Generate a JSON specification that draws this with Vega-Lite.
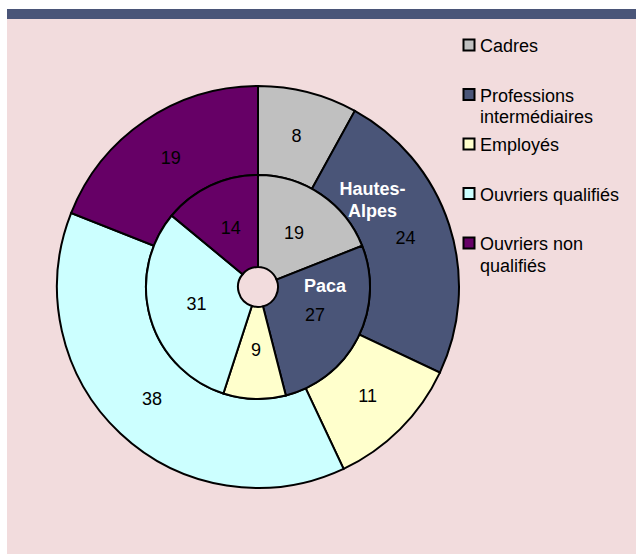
{
  "$schema": "https://vega.github.io/schema/vega-lite/v6.json",
  "background": "white",
  "padding": {"left": 7, "top": 8, "right": 0, "bottom": 0},
  "spacing": 0,
  "config": {
    "view": {"stroke": null},
    "concat": {"spacing": 0},
    "font": "Liberation Sans",
    "legend": {
      "orient": "none",
      "legendX": 453,
      "legendY": 27,
      "padding": 0,
      "title": null,
      "symbolType": "square",
      "symbolSize": 121,
      "symbolStrokeColor": "black",
      "symbolStrokeWidth": 2,
      "symbolOpacity": 1,
      "labelFont": "Liberation Sans",
      "labelFontSize": 18,
      "labelColor": "black",
      "labelBaseline": "top",
      "labelOffset": 2,
      "labelLimit": 220,
      "rowPadding": 6.5,
      "gridAlign": "all"
    }
  },
  "datasets": {
    "d": [
      {"ring": "Hautes-Alpes", "cat": "Cadres", "k": 1, "v": 8},
      {"ring": "Hautes-Alpes", "cat": "Professions intermédiaires", "k": 2, "v": 24},
      {"ring": "Hautes-Alpes", "cat": "Employés", "k": 3, "v": 11},
      {"ring": "Hautes-Alpes", "cat": "Ouvriers qualifiés", "k": 4, "v": 38},
      {"ring": "Hautes-Alpes", "cat": "Ouvriers non qualifiés", "k": 5, "v": 19},
      {"ring": "Paca", "cat": "Cadres", "k": 1, "v": 19},
      {"ring": "Paca", "cat": "Professions intermédiaires", "k": 2, "v": 27},
      {"ring": "Paca", "cat": "Employés", "k": 3, "v": 9},
      {"ring": "Paca", "cat": "Ouvriers qualifiés", "k": 4, "v": 31},
      {"ring": "Paca", "cat": "Ouvriers non qualifiés", "k": 5, "v": 14}
    ]
  },
  "vconcat": [
    {
      "width": 629,
      "height": 10,
      "view": {"fill": "#4a5578", "stroke": null},
      "data": {"values": [{}]},
      "mark": {"type": "text", "text": ""},
      "encoding": {}
    },
    {
      "hconcat": [
        {
          "width": 502,
          "height": 536,
          "view": {"fill": "#f2dcdd", "stroke": null},
          "data": {"name": "d"},
          "encoding": {
            "theta": {"field": "v", "type": "quantitative", "stack": true},
            "order": {"field": "k", "type": "quantitative", "sort": "ascending"}
          },
          "layer": [
            {
              "transform": [{"filter": "datum.ring === 'Hautes-Alpes'"}],
              "mark": {"type": "arc", "innerRadius": 112, "outerRadius": 201, "stroke": "black", "strokeWidth": 2},
              "encoding": {
                "color": {
                  "field": "cat",
                  "type": "nominal",
                  "scale": {
                    "domain": ["Cadres", "Professions intermédiaires", "Employés", "Ouvriers qualifiés", "Ouvriers non qualifiés"],
                    "range": ["#c0c0c0", "#4a5578", "#ffffcc", "#ccffff", "#660066"]
                  },
                  "legend": {
                    "labelExpr": "datum.label === 'Professions intermédiaires' ? ['Professions', 'intermédiaires'] : datum.label === 'Ouvriers non qualifiés' ? ['Ouvriers non', 'qualifiés'] : datum.label",
                    "encode": {"labels": {"update": {"dy": {"value": -7}, "lineHeight": {"value": 21.6}}}}
                  }
                }
              }
            },
            {
              "transform": [{"filter": "datum.ring === 'Paca'"}],
              "mark": {"type": "arc", "innerRadius": 20, "outerRadius": 112, "stroke": "black", "strokeWidth": 2},
              "encoding": {
                "color": {"field": "cat", "type": "nominal"}
              }
            },
            {
              "transform": [{"filter": "datum.ring === 'Hautes-Alpes'"}],
              "mark": {"type": "text", "radius": 155, "fontSize": 18, "font": "Liberation Sans", "color": "black"},
              "encoding": {
                "text": {"field": "v", "type": "quantitative"}
              }
            },
            {
              "transform": [{"filter": "datum.ring === 'Paca'"}],
              "mark": {"type": "text", "radius": 64, "fontSize": 18, "font": "Liberation Sans", "color": "black"},
              "encoding": {
                "text": {"field": "v", "type": "quantitative"}
              }
            },
            {
              "transform": [{"filter": "datum.ring === 'Paca'"}],
              "mark": {"type": "text", "radius": 64, "dx": 10, "dy": -29, "fontSize": 18, "fontWeight": "bold", "font": "Liberation Sans", "color": "white"},
              "encoding": {
                "text": {"condition": {"test": "datum.cat === 'Professions intermédiaires'", "value": "Paca"}, "value": ""}
              }
            },
            {
              "transform": [{"filter": "datum.ring === 'Hautes-Alpes'"}],
              "mark": {"type": "text", "radius": 155, "dx": -33, "dy": -49, "lineHeight": 22, "fontSize": 18, "fontWeight": "bold", "font": "Liberation Sans", "color": "white"},
              "encoding": {
                "text": {"condition": {"test": "datum.cat === 'Professions intermédiaires'", "value": ["Hautes-", "Alpes"]}, "value": ""}
              }
            }
          ]
        },
        {
          "width": 127,
          "height": 536,
          "view": {"fill": "#f2dcdd", "stroke": null},
          "data": {"values": [{}]},
          "mark": {"type": "text", "text": ""},
          "encoding": {}
        }
      ]
    }
  ]
}
